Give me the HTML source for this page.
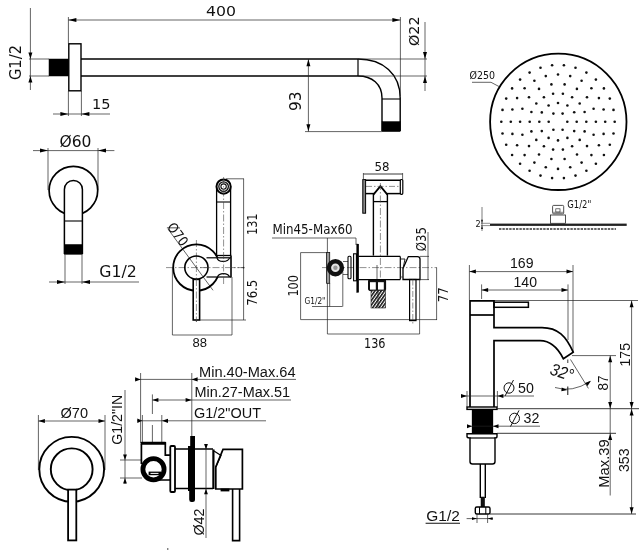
<!DOCTYPE html>
<html><head><meta charset="utf-8"><title>Technical drawing</title>
<style>html,body{margin:0;padding:0;background:#fff}svg{display:block;will-change:transform;filter:grayscale(1)}</style></head>
<body><svg width="640" height="550" viewBox="0 0 640 550">
<rect width="640" height="550" fill="#fff"/>
<text transform="translate(21,80) rotate(-90)" font-family="&quot;DejaVu Sans&quot;, &quot;Liberation Sans&quot;, sans-serif" font-size="15.5" text-anchor="start" fill="#111" textLength="35" lengthAdjust="spacingAndGlyphs">G1/2</text>
<line x1="30.4" y1="8" x2="30.4" y2="90" stroke="#222" stroke-width="0.7"/>
<polygon points="30.40,59.00 28.40,52.50 32.40,52.50" fill="#000"/>
<polygon points="30.40,76.00 32.40,82.50 28.40,82.50" fill="#000"/>
<line x1="29" y1="59" x2="49" y2="59" stroke="#222" stroke-width="0.7"/>
<line x1="29" y1="76" x2="49" y2="76" stroke="#222" stroke-width="0.7"/>
<rect x="49" y="59" width="19.6" height="17" fill="#000" stroke="#000" stroke-width="0.5"/>
<rect x="68.8" y="43.8" width="12.2" height="47.0" fill="none" stroke="#000" stroke-width="1.4"/>
<line x1="81" y1="59" x2="358" y2="59" stroke="#000" stroke-width="1.4"/>
<line x1="81" y1="76" x2="358" y2="76" stroke="#000" stroke-width="1.4"/>
<line x1="358" y1="59" x2="358" y2="76" stroke="#000" stroke-width="1.2"/>
<path d="M358,59 C383,59 400.2,74 400.2,98 V131" fill="none" stroke="#000" stroke-width="1.4" />
<path d="M358,76 C372,76 382,84 382,98 V131" fill="none" stroke="#000" stroke-width="1.4" />
<line x1="382" y1="99" x2="400" y2="99" stroke="#000" stroke-width="1.1"/>
<rect x="382" y="121.6" width="18.2" height="10.0" fill="#000" stroke="#000" stroke-width="0.5"/>
<line x1="68.4" y1="17" x2="68.4" y2="43.6" stroke="#222" stroke-width="0.7"/>
<line x1="400.4" y1="17" x2="400.4" y2="96" stroke="#222" stroke-width="0.7"/>
<line x1="68.4" y1="20" x2="400.4" y2="20" stroke="#222" stroke-width="0.7"/>
<polygon points="68.40,20.00 76.40,18.00 76.40,22.00" fill="#000"/>
<polygon points="400.40,20.00 392.40,22.00 392.40,18.00" fill="#000"/>
<text x="206" y="16" font-family="&quot;DejaVu Sans&quot;, &quot;Liberation Sans&quot;, sans-serif" font-size="14.5" text-anchor="start" fill="#111" textLength="30" lengthAdjust="spacingAndGlyphs">400</text>
<line x1="68.4" y1="91" x2="68.4" y2="116" stroke="#222" stroke-width="0.7"/>
<line x1="81.4" y1="91" x2="81.4" y2="116" stroke="#222" stroke-width="0.7"/>
<line x1="53" y1="114" x2="110" y2="114" stroke="#222" stroke-width="0.7"/>
<polygon points="68.40,114.00 60.40,116.00 60.40,112.00" fill="#000"/>
<polygon points="81.40,114.00 89.40,112.00 89.40,116.00" fill="#000"/>
<text x="92" y="109" font-family="&quot;DejaVu Sans&quot;, &quot;Liberation Sans&quot;, sans-serif" font-size="14.5" text-anchor="start" fill="#111" textLength="18.5" lengthAdjust="spacingAndGlyphs">15</text>
<line x1="308.4" y1="59" x2="308.4" y2="131.6" stroke="#222" stroke-width="0.7"/>
<polygon points="308.40,59.30 310.40,66.30 306.40,66.30" fill="#000"/>
<polygon points="308.40,131.30 306.40,124.30 310.40,124.30" fill="#000"/>
<line x1="305" y1="131.6" x2="382" y2="131.6" stroke="#222" stroke-width="0.7"/>
<text transform="translate(300.6,111) rotate(-90)" font-family="&quot;DejaVu Sans&quot;, &quot;Liberation Sans&quot;, sans-serif" font-size="15.5" text-anchor="start" fill="#111" textLength="19.5" lengthAdjust="spacingAndGlyphs">93</text>
<line x1="425" y1="22" x2="425" y2="91" stroke="#222" stroke-width="0.7"/>
<polygon points="425.00,59.00 423.00,52.00 427.00,52.00" fill="#000"/>
<polygon points="425.00,76.00 427.00,83.00 423.00,83.00" fill="#000"/>
<line x1="358" y1="59" x2="427" y2="59" stroke="#222" stroke-width="0.7"/>
<line x1="358" y1="76" x2="427" y2="76" stroke="#222" stroke-width="0.7"/>
<text transform="translate(418.7,46) rotate(-90)" font-family="&quot;DejaVu Sans&quot;, &quot;Liberation Sans&quot;, sans-serif" font-size="14.5" text-anchor="start" fill="#111" textLength="29.5" lengthAdjust="spacingAndGlyphs">Ø22</text>
<text x="59.5" y="147" font-family="&quot;DejaVu Sans&quot;, &quot;Liberation Sans&quot;, sans-serif" font-size="15" text-anchor="start" fill="#111" textLength="32" lengthAdjust="spacingAndGlyphs">Ø60</text>
<line x1="33" y1="150.6" x2="114.4" y2="150.6" stroke="#222" stroke-width="0.7"/>
<polygon points="48.00,150.60 40.00,152.60 40.00,148.60" fill="#000"/>
<polygon points="98.00,150.60 106.00,148.60 106.00,152.60" fill="#000"/>
<line x1="48" y1="148" x2="48" y2="190" stroke="#222" stroke-width="0.7"/>
<line x1="98" y1="148" x2="98" y2="190" stroke="#222" stroke-width="0.7"/>
<circle cx="73.4" cy="190.6" r="24.3" fill="none" stroke="#000" stroke-width="1.7"/>
<path d="M64.4,254 V189.4 A9,9 0 0 1 82.4,189.4 V254" fill="#fff" stroke="#000" stroke-width="1.5" />
<line x1="64.4" y1="221" x2="82.4" y2="221" stroke="#000" stroke-width="1.1"/>
<rect x="64.2" y="244.4" width="18.4" height="10.0" fill="#000" stroke="#000" stroke-width="0.4"/>
<line x1="65" y1="254.4" x2="65" y2="284" stroke="#222" stroke-width="0.7"/>
<line x1="82" y1="254.4" x2="82" y2="284" stroke="#222" stroke-width="0.7"/>
<line x1="49" y1="282" x2="139" y2="282" stroke="#222" stroke-width="0.7"/>
<polygon points="65.00,282.00 57.00,284.00 57.00,280.00" fill="#000"/>
<polygon points="82.00,282.00 90.00,280.00 90.00,284.00" fill="#000"/>
<text x="99.3" y="276.6" font-family="&quot;DejaVu Sans&quot;, &quot;Liberation Sans&quot;, sans-serif" font-size="15" text-anchor="start" fill="#111" textLength="37.5" lengthAdjust="spacingAndGlyphs">G1/2</text>
<line x1="166" y1="267.6" x2="244" y2="267.6" stroke="#444" stroke-width="0.6" stroke-dasharray="7 2 1.5 2"/>
<line x1="196.4" y1="240" x2="196.4" y2="322" stroke="#444" stroke-width="0.6" stroke-dasharray="7 2 1.5 2"/>
<line x1="168" y1="229" x2="213" y2="290.3" stroke="#222" stroke-width="0.7"/>
<circle cx="196.4" cy="267.6" r="23.2" fill="none" stroke="#000" stroke-width="1.8"/>
<path d="M207,257.8 H231 V277 H207 Z" fill="#fff" stroke="none" stroke-width="0" />
<circle cx="196.4" cy="267.6" r="11.6" fill="none" stroke="#000" stroke-width="1.6"/>
<line x1="206.5" y1="257.8" x2="231" y2="257.8" stroke="#000" stroke-width="1.2"/>
<line x1="206.5" y1="277" x2="231" y2="277" stroke="#000" stroke-width="1.2"/>
<line x1="231" y1="256" x2="231" y2="277.5" stroke="#000" stroke-width="1.6"/>
<path d="M217,257.8 C218,262.5 228,262.5 229.5,257.8" fill="none" stroke="#000" stroke-width="1.1" />
<path d="M217.5,277 C219,272.5 228,272.5 229.5,277" fill="none" stroke="#000" stroke-width="1.1" />
<line x1="200" y1="267.6" x2="244" y2="267.6" stroke="#444" stroke-width="0.6" stroke-dasharray="7 2 1.5 2"/>
<rect x="193.2" y="279.4" width="6.4" height="40.6" fill="#fff" stroke="#000" stroke-width="1.6"/>
<line x1="196.4" y1="279" x2="196.4" y2="322" stroke="#444" stroke-width="0.6" stroke-dasharray="7 2 1.5 2"/>
<line x1="216.6" y1="186.4" x2="216.6" y2="255.5" stroke="#000" stroke-width="1.3"/>
<line x1="230.6" y1="186.4" x2="230.6" y2="255.5" stroke="#000" stroke-width="1.3"/>
<line x1="216.6" y1="202" x2="230.6" y2="202" stroke="#000" stroke-width="1.1"/>
<line x1="216.2" y1="255.5" x2="231.5" y2="255.5" stroke="#000" stroke-width="1.3"/>
<circle cx="223.6" cy="186.6" r="7.1" fill="#fff" stroke="#000" stroke-width="2"/>
<circle cx="223.6" cy="186.6" r="4.8" fill="none" stroke="#111" stroke-width="1.3"/>
<circle cx="223.6" cy="186.6" r="2.7" fill="none" stroke="#111" stroke-width="1.1"/>
<line x1="223.6" y1="177" x2="223.6" y2="285" stroke="#444" stroke-width="0.6" stroke-dasharray="7 2 1.5 2"/>
<line x1="226" y1="178.8" x2="244" y2="178.8" stroke="#222" stroke-width="0.7"/>
<line x1="243.6" y1="178.8" x2="243.6" y2="320" stroke="#222" stroke-width="0.7"/>
<line x1="199.6" y1="320" x2="246" y2="320" stroke="#222" stroke-width="0.7"/>
<circle cx="243.6" cy="267.6" r="0.9" fill="#222" stroke="none" stroke-width="0"/>
<text transform="translate(257,235) rotate(-90)" font-family="&quot;DejaVu Sans Condensed&quot;, &quot;Liberation Sans&quot;, sans-serif" font-size="13.7" text-anchor="start" fill="#111" textLength="21.5" lengthAdjust="spacingAndGlyphs">131</text>
<text transform="translate(257,305.8) rotate(-90)" font-family="&quot;DejaVu Sans Condensed&quot;, &quot;Liberation Sans&quot;, sans-serif" font-size="13.7" text-anchor="start" fill="#111" textLength="26" lengthAdjust="spacingAndGlyphs">76.5</text>
<text transform="translate(166.5,227) rotate(53.7)" font-family="&quot;DejaVu Sans Condensed&quot;, &quot;Liberation Sans&quot;, sans-serif" font-size="13.7" text-anchor="start" fill="#111" textLength="25" lengthAdjust="spacingAndGlyphs">Ø70</text>
<line x1="172.4" y1="267.6" x2="172.4" y2="335" stroke="#222" stroke-width="0.7"/>
<line x1="232" y1="277" x2="232" y2="335" stroke="#222" stroke-width="0.7"/>
<line x1="172.4" y1="335" x2="232" y2="335" stroke="#222" stroke-width="0.7"/>
<text x="192.5" y="347" font-family="&quot;Liberation Sans&quot;, sans-serif" font-size="12.5" text-anchor="start" fill="#111" textLength="14.5" lengthAdjust="spacingAndGlyphs">88</text>
<text x="272.5" y="233.6" font-family="&quot;DejaVu Sans Condensed&quot;, &quot;Liberation Sans&quot;, sans-serif" font-size="13.7" text-anchor="start" fill="#111" textLength="80" lengthAdjust="spacingAndGlyphs">Min45-Max60</text>
<line x1="272" y1="238" x2="356" y2="238" stroke="#222" stroke-width="0.7"/>
<line x1="327.4" y1="238" x2="327.4" y2="334" stroke="#222" stroke-width="0.7"/>
<line x1="356" y1="238" x2="356" y2="245" stroke="#222" stroke-width="0.7"/>
<line x1="300.6" y1="252.6" x2="300.6" y2="319.6" stroke="#222" stroke-width="0.7"/>
<line x1="300.6" y1="252.6" x2="327" y2="252.6" stroke="#222" stroke-width="0.7"/>
<line x1="300.6" y1="319.6" x2="437" y2="319.6" stroke="#222" stroke-width="0.7"/>
<text transform="translate(298,296.6) rotate(-90)" font-family="&quot;DejaVu Sans Condensed&quot;, &quot;Liberation Sans&quot;, sans-serif" font-size="13.7" text-anchor="start" fill="#111" textLength="21.5" lengthAdjust="spacingAndGlyphs">100</text>
<line x1="322" y1="267.6" x2="437" y2="267.6" stroke="#444" stroke-width="0.6" stroke-dasharray="7 2 1.5 2"/>
<rect x="326.6" y="252.4" width="3.1" height="30.9" fill="#999" stroke="#111" stroke-width="0.8"/>
<circle cx="335.4" cy="267.7" r="6.5" fill="#e4e4e4" stroke="#111" stroke-width="4.4"/>
<circle cx="335.4" cy="267.7" r="2.2" fill="#999" stroke="none" stroke-width="0"/>
<text x="304.5" y="304.3" font-family="&quot;DejaVu Sans Condensed&quot;, &quot;Liberation Sans&quot;, sans-serif" font-size="9.5" text-anchor="start" fill="#111" textLength="21" lengthAdjust="spacingAndGlyphs">G1/2&quot;</text>
<line x1="312" y1="306.5" x2="342.5" y2="306.5" stroke="#222" stroke-width="0.7"/>
<line x1="329.7" y1="283" x2="329.7" y2="306.5" stroke="#222" stroke-width="0.7"/>
<line x1="342.8" y1="272" x2="342.8" y2="306.5" stroke="#222" stroke-width="0.7"/>
<line x1="343" y1="261.5" x2="348" y2="261.5" stroke="#222" stroke-width="0.7"/>
<line x1="343" y1="274.5" x2="348" y2="274.5" stroke="#222" stroke-width="0.7"/>
<rect x="348" y="256.3" width="3" height="22.5" fill="none" stroke="#000" stroke-width="1.1" rx="1"/>
<rect x="353.6" y="253.8" width="2.8" height="27.0" fill="none" stroke="#000" stroke-width="1.1"/>
<rect x="356.6" y="244" width="2.2" height="48.5" fill="#000" stroke="#000" stroke-width="0.3"/>
<line x1="358.6" y1="256.4" x2="400.3" y2="256.4" stroke="#000" stroke-width="1.2"/>
<line x1="358.6" y1="279.6" x2="400.3" y2="279.6" stroke="#000" stroke-width="1.2"/>
<line x1="400.3" y1="256.4" x2="400.3" y2="279.6" stroke="#000" stroke-width="1.2"/>
<line x1="373.4" y1="194" x2="373.4" y2="255.6" stroke="#000" stroke-width="1.4"/>
<line x1="387.4" y1="194" x2="387.4" y2="255.6" stroke="#000" stroke-width="1.4"/>
<line x1="373.4" y1="201.6" x2="387.4" y2="201.6" stroke="#000" stroke-width="1.3"/>
<path d="M373.4,194.6 L380.4,186.2 L387.4,194.6" fill="none" stroke="#000" stroke-width="1.8" />
<line x1="365.6" y1="180.3" x2="400.5" y2="180.3" stroke="#000" stroke-width="1.6"/>
<line x1="365.6" y1="193.6" x2="374" y2="193.6" stroke="#000" stroke-width="1.5"/>
<line x1="386.8" y1="193.6" x2="400.5" y2="193.6" stroke="#000" stroke-width="1.5"/>
<rect x="400.3" y="179.5" width="2.5" height="14.8" fill="none" stroke="#000" stroke-width="1.2" rx="1"/>
<line x1="366" y1="186.4" x2="401" y2="186.4" stroke="#444" stroke-width="0.6" stroke-dasharray="6 2 1.5 2"/>
<rect x="362.8" y="179.6" width="2.8" height="33.6" fill="#888" stroke="#000" stroke-width="1"/>
<line x1="380.4" y1="183" x2="380.4" y2="284" stroke="#444" stroke-width="0.6" stroke-dasharray="7 2 1.5 2"/>
<line x1="377" y1="265" x2="377" y2="280" stroke="#222" stroke-width="0.7"/>
<text x="374.5" y="171.4" font-family="&quot;DejaVu Sans Condensed&quot;, &quot;Liberation Sans&quot;, sans-serif" font-size="12.8" text-anchor="start" fill="#111" textLength="15" lengthAdjust="spacingAndGlyphs">58</text>
<line x1="363.4" y1="174" x2="402.6" y2="174" stroke="#222" stroke-width="0.9"/>
<line x1="363.4" y1="173" x2="363.4" y2="180" stroke="#222" stroke-width="0.7"/>
<line x1="402.6" y1="173" x2="402.6" y2="180" stroke="#222" stroke-width="0.7"/>
<path d="M408.3,256.6 H417.5 Q420,256.6 420,259 V279.5 H403 V268.5 Z" fill="none" stroke="#000" stroke-width="1.3" />
<path d="M400.3,259 H405 L403,268.5" fill="none" stroke="#111" stroke-width="0.9" />
<line x1="400.3" y1="277" x2="403" y2="277" stroke="#222" stroke-width="0.7"/>
<rect x="409.6" y="279.5" width="6.4" height="41.1" fill="none" stroke="#000" stroke-width="1.2"/>
<line x1="412.8" y1="279.5" x2="412.8" y2="325" stroke="#444" stroke-width="0.6" stroke-dasharray="6 2 1.5 2"/>
<line x1="428" y1="232" x2="428" y2="280" stroke="#222" stroke-width="0.7"/>
<line x1="420" y1="256.4" x2="429" y2="256.4" stroke="#222" stroke-width="0.7"/>
<line x1="420" y1="279.6" x2="429" y2="279.6" stroke="#222" stroke-width="0.7"/>
<text transform="translate(426.2,251.2) rotate(-90)" font-family="&quot;DejaVu Sans Condensed&quot;, &quot;Liberation Sans&quot;, sans-serif" font-size="13.7" text-anchor="start" fill="#111" textLength="24" lengthAdjust="spacingAndGlyphs">Ø35</text>
<line x1="436.6" y1="267.6" x2="436.6" y2="320" stroke="#222" stroke-width="0.7"/>
<text transform="translate(448,302.3) rotate(-90)" font-family="&quot;DejaVu Sans Condensed&quot;, &quot;Liberation Sans&quot;, sans-serif" font-size="13.7" text-anchor="start" fill="#111" textLength="15" lengthAdjust="spacingAndGlyphs">77</text>
<line x1="327.4" y1="334" x2="419.6" y2="334" stroke="#222" stroke-width="0.7"/>
<line x1="419.6" y1="279.5" x2="419.6" y2="334" stroke="#222" stroke-width="0.7"/>
<text x="364" y="348.2" font-family="&quot;DejaVu Sans Condensed&quot;, &quot;Liberation Sans&quot;, sans-serif" font-size="13.7" text-anchor="start" fill="#111" textLength="21.5" lengthAdjust="spacingAndGlyphs">136</text>
<rect x="368.6" y="279.8" width="17.0" height="10.6" fill="#111" stroke="#000" stroke-width="1" rx="1"/>
<rect x="370" y="282.2" width="5.8" height="7.4" fill="#fff" stroke="none" stroke-width="0"/>
<rect x="378" y="282.2" width="5.8" height="7.4" fill="#fff" stroke="none" stroke-width="0"/>
<defs><pattern id="hx" width="2.6" height="2.6" patternUnits="userSpaceOnUse" patternTransform="rotate(-55)"><rect width="2.6" height="2.6" fill="#fff"/><rect width="2.6" height="1.5" fill="#111"/></pattern></defs>
<rect x="371" y="290.4" width="14.6" height="17.6" fill="url(#hx)" stroke="#222" stroke-width="0.6"/>
<line x1="378" y1="290.4" x2="378" y2="308" stroke="#222" stroke-width="0.8"/>
<text x="60.5" y="418" font-family="&quot;Liberation Sans&quot;, sans-serif" font-size="14" text-anchor="start" fill="#111" textLength="27.5" lengthAdjust="spacingAndGlyphs">Ø70</text>
<line x1="38.4" y1="421" x2="105" y2="421" stroke="#222" stroke-width="0.7"/>
<polygon points="38.40,421.00 44.90,419.00 44.90,423.00" fill="#000"/>
<polygon points="105.00,421.00 98.50,423.00 98.50,419.00" fill="#000"/>
<line x1="38.4" y1="415" x2="38.4" y2="470" stroke="#222" stroke-width="0.7"/>
<line x1="105" y1="415" x2="105" y2="470" stroke="#222" stroke-width="0.7"/>
<circle cx="71.7" cy="469.3" r="32.4" fill="none" stroke="#000" stroke-width="1.9"/>
<circle cx="71.7" cy="469.3" r="20.9" fill="none" stroke="#000" stroke-width="1.9"/>
<rect x="68.1" y="489.6" width="8.2" height="50.8" fill="#fff" stroke="#000" stroke-width="1.8"/>
<text x="199" y="377" font-family="&quot;Liberation Sans&quot;, sans-serif" font-size="13.8" text-anchor="start" fill="#111" textLength="96.5" lengthAdjust="spacingAndGlyphs">Min.40-Max.64</text>
<line x1="135" y1="379.4" x2="296" y2="379.4" stroke="#222" stroke-width="0.7"/>
<polygon points="140.60,379.40 135.10,381.50 135.10,377.30" fill="#000"/>
<polygon points="191.60,379.40 197.60,377.30 197.60,381.50" fill="#000"/>
<text x="194.5" y="397" font-family="&quot;Liberation Sans&quot;, sans-serif" font-size="13.8" text-anchor="start" fill="#111" textLength="95.5" lengthAdjust="spacingAndGlyphs">Min.27-Max.51</text>
<line x1="152.4" y1="400" x2="291" y2="400" stroke="#222" stroke-width="0.7"/>
<polygon points="152.40,400.00 158.40,397.90 158.40,402.10" fill="#000"/>
<polygon points="191.60,400.00 185.60,402.10 185.60,397.90" fill="#000"/>
<text x="194" y="418" font-family="&quot;Liberation Sans&quot;, sans-serif" font-size="14" text-anchor="start" fill="#111" textLength="67" lengthAdjust="spacingAndGlyphs">G1/2&quot;OUT</text>
<line x1="137" y1="420.8" x2="266" y2="420.8" stroke="#222" stroke-width="0.7"/>
<polygon points="142.30,420.80 137.30,423.00 137.30,418.60" fill="#000"/>
<polygon points="162.00,420.80 168.00,418.70 168.00,422.90" fill="#000"/>
<line x1="140.6" y1="373" x2="140.6" y2="443" stroke="#222" stroke-width="0.7"/>
<line x1="142.4" y1="415" x2="142.4" y2="443" stroke="#222" stroke-width="0.7"/>
<line x1="152.4" y1="394.4" x2="152.4" y2="414" stroke="#222" stroke-width="0.7"/>
<line x1="152.4" y1="425" x2="152.4" y2="442" stroke="#222" stroke-width="0.7"/>
<line x1="161.8" y1="415" x2="161.8" y2="442" stroke="#222" stroke-width="0.7"/>
<line x1="191.8" y1="373" x2="191.8" y2="437" stroke="#222" stroke-width="0.7"/>
<text transform="translate(122,444.8) rotate(-90)" font-family="&quot;Liberation Sans&quot;, sans-serif" font-size="14" text-anchor="start" fill="#111" textLength="50" lengthAdjust="spacingAndGlyphs">G1/2&quot;IN</text>
<line x1="125" y1="390" x2="125" y2="484" stroke="#222" stroke-width="0.7"/>
<polygon points="125.00,460.00 123.10,454.50 126.90,454.50" fill="#000"/>
<polygon points="125.00,478.00 126.90,483.50 123.10,483.50" fill="#000"/>
<line x1="120" y1="460" x2="142" y2="460" stroke="#222" stroke-width="0.7"/>
<line x1="120" y1="478" x2="142" y2="478" stroke="#222" stroke-width="0.7"/>
<path d="M141.4,464 V444 M165.3,444 V455.2 H170 M158,480 H170" fill="none" stroke="#000" stroke-width="1.7" />
<rect x="140.6" y="441.7" width="25.6" height="3.1" fill="#000" stroke="none" stroke-width="0" rx="1"/>
<circle cx="153.5" cy="469.3" r="10.6" fill="#fff" stroke="#000" stroke-width="4.8"/>
<rect x="148.6" y="471.6" width="12.4" height="3.6" fill="#000" stroke="none" stroke-width="0"/>
<line x1="150.5" y1="473.4" x2="158.5" y2="473.4" stroke="#fff" stroke-width="1"/>
<rect x="170.3" y="446" width="4.7" height="46" fill="none" stroke="#000" stroke-width="1.8" rx="1"/>
<line x1="175" y1="449" x2="213" y2="449" stroke="#000" stroke-width="1.5"/>
<line x1="175" y1="488.6" x2="213" y2="488.6" stroke="#000" stroke-width="1.5"/>
<path d="M190.2,436 H195 V499.5 Q195,502 192.5,502 H191.5 Q189.2,502 189.2,499.5 V491 H188 V446 H190.2 Z" fill="#000" stroke="none" stroke-width="0" />
<line x1="206" y1="444" x2="206" y2="538" stroke="#222" stroke-width="0.7"/>
<polygon points="206.00,449.60 204.10,444.10 207.90,444.10" fill="#000"/>
<polygon points="206.00,488.80 207.90,494.30 204.10,494.30" fill="#000"/>
<text transform="translate(204,535.5) rotate(-90)" font-family="&quot;Liberation Sans&quot;, sans-serif" font-size="14" text-anchor="start" fill="#111" textLength="27" lengthAdjust="spacingAndGlyphs">Ø42</text>
<line x1="213.4" y1="449.4" x2="213.4" y2="489" stroke="#000" stroke-width="2.2"/>
<path d="M223,449.4 H242.4 V489 H215.8 V467 Z" fill="none" stroke="#000" stroke-width="1.7" />
<path d="M214,451 L221,455.5 L215.8,467" fill="none" stroke="#000" stroke-width="1.2" />
<rect x="221" y="489" width="8" height="2" fill="#000" stroke="#000" stroke-width="0.8"/>
<path d="M232.6,489 V540.6 H239.6 V489" fill="none" stroke="#000" stroke-width="1.6" />
<line x1="167.8" y1="548" x2="167.8" y2="550" stroke="#222" stroke-width="0.8"/>
<text x="510" y="267.6" font-family="&quot;Liberation Sans&quot;, sans-serif" font-size="14" text-anchor="start" fill="#111" textLength="23.5" lengthAdjust="spacingAndGlyphs">169</text>
<line x1="469.4" y1="271.6" x2="573" y2="271.6" stroke="#222" stroke-width="0.7"/>
<polygon points="469.40,271.60 475.90,269.60 475.90,273.60" fill="#000"/>
<polygon points="573.00,271.60 566.50,273.60 566.50,269.60" fill="#000"/>
<line x1="469.4" y1="265" x2="469.4" y2="300" stroke="#222" stroke-width="0.7"/>
<line x1="573" y1="265" x2="573" y2="352" stroke="#222" stroke-width="0.7"/>
<text x="513.5" y="287" font-family="&quot;Liberation Sans&quot;, sans-serif" font-size="14" text-anchor="start" fill="#111" textLength="23.5" lengthAdjust="spacingAndGlyphs">140</text>
<line x1="481.6" y1="290" x2="568" y2="290" stroke="#222" stroke-width="0.7"/>
<polygon points="481.60,290.00 488.10,288.00 488.10,292.00" fill="#000"/>
<polygon points="568.00,290.00 561.50,292.00 561.50,288.00" fill="#000"/>
<line x1="481.6" y1="284.4" x2="481.6" y2="299" stroke="#222" stroke-width="0.7"/>
<line x1="568" y1="284.4" x2="568" y2="340" stroke="#222" stroke-width="0.7"/>
<line x1="494" y1="300.5" x2="638" y2="300.5" stroke="#222" stroke-width="0.7"/>
<path d="M470,407.5 V300.8 H494 V327.6 H542 C558,327.6 566,336 573.2,352.2 L563.4,358.8 C557,346 550,340.6 540,340.6 H494 V407.5" fill="none" stroke="#000" stroke-width="1.7" />
<line x1="470" y1="315" x2="494" y2="315" stroke="#000" stroke-width="1.7"/>
<rect x="494" y="302.2" width="34.4" height="5.1" fill="none" stroke="#000" stroke-width="1.5"/>
<rect x="467" y="407" width="30" height="2.4" fill="#fff" stroke="#000" stroke-width="1.4"/>
<rect x="472" y="409.6" width="21" height="23.4" fill="#000" stroke="#000" stroke-width="0.3"/>
<path d="M467,433.8 H497 V436.5 Q497,438 495,438 V461.5 Q495,464 492.5,464 H472.5 Q470,464 470,461.5 V438 Q467,438 467,436.5 Z" fill="none" stroke="#000" stroke-width="1.4" />
<line x1="470" y1="438" x2="495" y2="438" stroke="#000" stroke-width="1.2"/>
<line x1="480.3" y1="464" x2="480.3" y2="498" stroke="#000" stroke-width="1.4"/>
<line x1="485.3" y1="464" x2="485.3" y2="498" stroke="#000" stroke-width="1.4"/>
<rect x="481" y="497" width="3.6" height="10" fill="#111" stroke="#000" stroke-width="0.5"/>
<rect x="475.3" y="507" width="14.7" height="7" fill="#fff" stroke="#000" stroke-width="1.4" rx="1.5"/>
<line x1="479.5" y1="507" x2="479.5" y2="514" stroke="#000" stroke-width="1"/>
<line x1="485.8" y1="507" x2="485.8" y2="514" stroke="#000" stroke-width="1"/>
<line x1="497" y1="408.7" x2="639" y2="408.7" stroke="#222" stroke-width="0.9"/>
<line x1="497" y1="433.3" x2="616" y2="433.3" stroke="#222" stroke-width="0.9"/>
<line x1="490" y1="514" x2="636" y2="514" stroke="#222" stroke-width="0.9"/>
<line x1="467" y1="391" x2="467" y2="407" stroke="#222" stroke-width="0.7"/>
<line x1="497.4" y1="391" x2="497.4" y2="407" stroke="#222" stroke-width="0.7"/>
<line x1="461" y1="396" x2="534" y2="396" stroke="#222" stroke-width="0.7"/>
<polygon points="467.00,396.00 461.00,398.00 461.00,394.00" fill="#000"/>
<polygon points="497.40,396.00 503.40,394.00 503.40,398.00" fill="#000"/>
<g fill="none" stroke="#111" stroke-width="1"><ellipse cx="509" cy="388" rx="5" ry="5.2"/><line x1="505" y1="396" x2="513.5" y2="380"/></g>
<text x="518" y="393" font-family="&quot;Liberation Sans&quot;, sans-serif" font-size="14" text-anchor="start" fill="#111" textLength="15.8" lengthAdjust="spacingAndGlyphs">50</text>
<line x1="467" y1="426.2" x2="540" y2="426.2" stroke="#222" stroke-width="0.7"/>
<polygon points="472.00,426.20 467.00,428.20 467.00,424.20" fill="#000"/>
<polygon points="493.00,426.20 498.50,424.20 498.50,428.20" fill="#000"/>
<g fill="none" stroke="#111" stroke-width="1"><ellipse cx="514.5" cy="418.4" rx="5" ry="5.2"/><line x1="510.5" y1="426.5" x2="519" y2="410.4"/></g>
<text x="523.5" y="423.4" font-family="&quot;Liberation Sans&quot;, sans-serif" font-size="14" text-anchor="start" fill="#111" textLength="15.8" lengthAdjust="spacingAndGlyphs">32</text>
<line x1="572" y1="355.6" x2="616" y2="355.6" stroke="#222" stroke-width="0.7"/>
<line x1="610.2" y1="355.6" x2="610.2" y2="495.5" stroke="#222" stroke-width="0.7"/>
<polygon points="610.20,355.80 612.20,362.30 608.20,362.30" fill="#000"/>
<polygon points="610.20,408.50 608.20,402.00 612.20,402.00" fill="#000"/>
<polygon points="610.20,433.50 612.20,440.00 608.20,440.00" fill="#000"/>
<text transform="translate(607.5,390.5) rotate(-90)" font-family="&quot;Liberation Sans&quot;, sans-serif" font-size="14" text-anchor="start" fill="#111" textLength="15" lengthAdjust="spacingAndGlyphs">87</text>
<line x1="631.6" y1="300.5" x2="631.6" y2="514" stroke="#222" stroke-width="0.7"/>
<polygon points="631.60,300.70 633.60,307.20 629.60,307.20" fill="#000"/>
<polygon points="631.60,408.50 629.60,402.00 633.60,402.00" fill="#000"/>
<polygon points="631.60,408.90 633.60,415.40 629.60,415.40" fill="#000"/>
<polygon points="631.60,513.80 629.60,507.30 633.60,507.30" fill="#000"/>
<text transform="translate(629.5,366.5) rotate(-90)" font-family="&quot;Liberation Sans&quot;, sans-serif" font-size="14" text-anchor="start" fill="#111" textLength="23.5" lengthAdjust="spacingAndGlyphs">175</text>
<text transform="translate(608.5,487.8) rotate(-90)" font-family="&quot;Liberation Sans&quot;, sans-serif" font-size="14" text-anchor="start" fill="#111" textLength="48.5" lengthAdjust="spacingAndGlyphs">Max.39</text>
<text transform="translate(629,472) rotate(-90)" font-family="&quot;Liberation Sans&quot;, sans-serif" font-size="14" text-anchor="start" fill="#111" textLength="23.5" lengthAdjust="spacingAndGlyphs">353</text>
<line x1="567.8" y1="359.5" x2="567.8" y2="363" stroke="#222" stroke-width="0.9"/>
<line x1="570.5" y1="359.5" x2="588.4" y2="388.4" stroke="#222" stroke-width="0.7"/>
<path d="M555,387.5 Q572,393 590,381.5" fill="none" stroke="#222" stroke-width="0.7" />
<polygon points="567.50,390.00 561.32,391.36 561.74,387.38" fill="#000"/>
<polygon points="591.00,380.80 587.50,386.07 585.04,382.92" fill="#000"/>
<line x1="567.8" y1="386.5" x2="567.8" y2="395" stroke="#111" stroke-width="1"/>
<text transform="translate(549,374) rotate(18)" font-family="&quot;Liberation Sans&quot;, sans-serif" font-size="17" text-anchor="start" fill="#111" textLength="23.5" lengthAdjust="spacingAndGlyphs" font-style="italic">32°</text>
<text x="426.3" y="521" font-family="&quot;Liberation Sans&quot;, sans-serif" font-size="15" text-anchor="start" fill="#111" textLength="33.5" lengthAdjust="spacingAndGlyphs">G1/2</text>
<line x1="425.6" y1="523.2" x2="460" y2="523.2" stroke="#111" stroke-width="1.1"/>
<line x1="466.6" y1="518.6" x2="493" y2="518.6" stroke="#222" stroke-width="0.7"/>
<polygon points="477.00,518.60 472.00,519.90 472.00,517.30" fill="#000"/>
<polygon points="487.60,518.60 492.60,517.30 492.60,519.90" fill="#000"/>
<line x1="477" y1="514" x2="477" y2="523" stroke="#222" stroke-width="0.7"/>
<line x1="487.6" y1="514" x2="487.6" y2="523" stroke="#222" stroke-width="0.7"/>
<circle cx="558.3" cy="121.8" r="68.2" fill="none" stroke="#000" stroke-width="1.8"/>
<circle cx="567.3" cy="121.7" r="1.3" fill="#111"/>
<circle cx="562.6" cy="129.8" r="1.3" fill="#111"/>
<circle cx="553.4" cy="129.8" r="1.3" fill="#111"/>
<circle cx="548.7" cy="121.7" r="1.3" fill="#111"/>
<circle cx="553.4" cy="113.6" r="1.3" fill="#111"/>
<circle cx="562.6" cy="113.6" r="1.3" fill="#111"/>
<circle cx="576.7" cy="121.7" r="1.3" fill="#111"/>
<circle cx="574.2" cy="131.1" r="1.3" fill="#111"/>
<circle cx="567.4" cy="137.9" r="1.3" fill="#111"/>
<circle cx="558.0" cy="140.4" r="1.3" fill="#111"/>
<circle cx="548.6" cy="137.9" r="1.3" fill="#111"/>
<circle cx="541.8" cy="131.1" r="1.3" fill="#111"/>
<circle cx="539.3" cy="121.7" r="1.3" fill="#111"/>
<circle cx="541.8" cy="112.4" r="1.3" fill="#111"/>
<circle cx="548.6" cy="105.5" r="1.3" fill="#111"/>
<circle cx="558.0" cy="103.0" r="1.3" fill="#111"/>
<circle cx="567.4" cy="105.5" r="1.3" fill="#111"/>
<circle cx="574.2" cy="112.3" r="1.3" fill="#111"/>
<circle cx="586.3" cy="121.7" r="1.3" fill="#111"/>
<circle cx="584.6" cy="131.4" r="1.3" fill="#111"/>
<circle cx="579.7" cy="139.9" r="1.3" fill="#111"/>
<circle cx="572.1" cy="146.2" r="1.3" fill="#111"/>
<circle cx="562.9" cy="149.6" r="1.3" fill="#111"/>
<circle cx="553.1" cy="149.6" r="1.3" fill="#111"/>
<circle cx="543.9" cy="146.2" r="1.3" fill="#111"/>
<circle cx="536.3" cy="139.9" r="1.3" fill="#111"/>
<circle cx="531.4" cy="131.4" r="1.3" fill="#111"/>
<circle cx="529.7" cy="121.7" r="1.3" fill="#111"/>
<circle cx="531.4" cy="112.0" r="1.3" fill="#111"/>
<circle cx="536.3" cy="103.5" r="1.3" fill="#111"/>
<circle cx="543.9" cy="97.2" r="1.3" fill="#111"/>
<circle cx="553.1" cy="93.8" r="1.3" fill="#111"/>
<circle cx="562.9" cy="93.8" r="1.3" fill="#111"/>
<circle cx="572.1" cy="97.2" r="1.3" fill="#111"/>
<circle cx="579.7" cy="103.5" r="1.3" fill="#111"/>
<circle cx="584.6" cy="112.0" r="1.3" fill="#111"/>
<circle cx="595.9" cy="121.7" r="1.3" fill="#111"/>
<circle cx="593.6" cy="134.7" r="1.3" fill="#111"/>
<circle cx="587.0" cy="146.1" r="1.3" fill="#111"/>
<circle cx="577.0" cy="154.5" r="1.3" fill="#111"/>
<circle cx="564.6" cy="159.0" r="1.3" fill="#111"/>
<circle cx="551.4" cy="159.0" r="1.3" fill="#111"/>
<circle cx="539.0" cy="154.5" r="1.3" fill="#111"/>
<circle cx="529.0" cy="146.1" r="1.3" fill="#111"/>
<circle cx="522.4" cy="134.7" r="1.3" fill="#111"/>
<circle cx="520.1" cy="121.7" r="1.3" fill="#111"/>
<circle cx="522.4" cy="108.7" r="1.3" fill="#111"/>
<circle cx="529.0" cy="97.3" r="1.3" fill="#111"/>
<circle cx="539.0" cy="88.9" r="1.3" fill="#111"/>
<circle cx="551.4" cy="84.4" r="1.3" fill="#111"/>
<circle cx="564.6" cy="84.4" r="1.3" fill="#111"/>
<circle cx="576.9" cy="88.9" r="1.3" fill="#111"/>
<circle cx="587.0" cy="97.3" r="1.3" fill="#111"/>
<circle cx="593.6" cy="108.7" r="1.3" fill="#111"/>
<circle cx="605.2" cy="121.7" r="1.3" fill="#111"/>
<circle cx="603.6" cy="133.9" r="1.3" fill="#111"/>
<circle cx="598.9" cy="145.3" r="1.3" fill="#111"/>
<circle cx="591.4" cy="155.1" r="1.3" fill="#111"/>
<circle cx="581.6" cy="162.6" r="1.3" fill="#111"/>
<circle cx="570.2" cy="167.3" r="1.3" fill="#111"/>
<circle cx="558.0" cy="168.9" r="1.3" fill="#111"/>
<circle cx="545.8" cy="167.3" r="1.3" fill="#111"/>
<circle cx="534.4" cy="162.6" r="1.3" fill="#111"/>
<circle cx="524.6" cy="155.1" r="1.3" fill="#111"/>
<circle cx="517.1" cy="145.3" r="1.3" fill="#111"/>
<circle cx="512.4" cy="133.9" r="1.3" fill="#111"/>
<circle cx="510.8" cy="121.7" r="1.3" fill="#111"/>
<circle cx="512.4" cy="109.5" r="1.3" fill="#111"/>
<circle cx="517.1" cy="98.1" r="1.3" fill="#111"/>
<circle cx="524.6" cy="88.3" r="1.3" fill="#111"/>
<circle cx="534.4" cy="80.8" r="1.3" fill="#111"/>
<circle cx="545.8" cy="76.1" r="1.3" fill="#111"/>
<circle cx="558.0" cy="74.5" r="1.3" fill="#111"/>
<circle cx="570.2" cy="76.1" r="1.3" fill="#111"/>
<circle cx="581.6" cy="80.8" r="1.3" fill="#111"/>
<circle cx="591.4" cy="88.3" r="1.3" fill="#111"/>
<circle cx="598.9" cy="98.1" r="1.3" fill="#111"/>
<circle cx="603.6" cy="109.5" r="1.3" fill="#111"/>
<circle cx="614.7" cy="121.7" r="1.3" fill="#111"/>
<circle cx="613.5" cy="133.5" r="1.3" fill="#111"/>
<circle cx="609.8" cy="144.8" r="1.3" fill="#111"/>
<circle cx="603.9" cy="155.0" r="1.3" fill="#111"/>
<circle cx="595.9" cy="163.8" r="1.3" fill="#111"/>
<circle cx="586.4" cy="170.8" r="1.3" fill="#111"/>
<circle cx="575.5" cy="175.6" r="1.3" fill="#111"/>
<circle cx="563.9" cy="178.1" r="1.3" fill="#111"/>
<circle cx="552.1" cy="178.1" r="1.3" fill="#111"/>
<circle cx="540.5" cy="175.6" r="1.3" fill="#111"/>
<circle cx="529.6" cy="170.8" r="1.3" fill="#111"/>
<circle cx="520.1" cy="163.8" r="1.3" fill="#111"/>
<circle cx="512.1" cy="155.0" r="1.3" fill="#111"/>
<circle cx="506.2" cy="144.8" r="1.3" fill="#111"/>
<circle cx="502.5" cy="133.5" r="1.3" fill="#111"/>
<circle cx="501.3" cy="121.7" r="1.3" fill="#111"/>
<circle cx="502.5" cy="109.9" r="1.3" fill="#111"/>
<circle cx="506.2" cy="98.6" r="1.3" fill="#111"/>
<circle cx="512.1" cy="88.4" r="1.3" fill="#111"/>
<circle cx="520.1" cy="79.6" r="1.3" fill="#111"/>
<circle cx="529.6" cy="72.6" r="1.3" fill="#111"/>
<circle cx="540.5" cy="67.8" r="1.3" fill="#111"/>
<circle cx="552.1" cy="65.3" r="1.3" fill="#111"/>
<circle cx="563.9" cy="65.3" r="1.3" fill="#111"/>
<circle cx="575.5" cy="67.8" r="1.3" fill="#111"/>
<circle cx="586.4" cy="72.6" r="1.3" fill="#111"/>
<circle cx="595.9" cy="79.6" r="1.3" fill="#111"/>
<circle cx="603.9" cy="88.4" r="1.3" fill="#111"/>
<circle cx="609.8" cy="98.6" r="1.3" fill="#111"/>
<circle cx="613.5" cy="109.9" r="1.3" fill="#111"/>
<text x="469.5" y="78.5" font-family="&quot;DejaVu Sans Condensed&quot;, &quot;Liberation Sans&quot;, sans-serif" font-size="10.3" text-anchor="start" fill="#111" textLength="25.5" lengthAdjust="spacingAndGlyphs">Ø250</text>
<path d="M472,82.3 H491 L499.5,86.8" fill="none" stroke="#222" stroke-width="0.7" />
<rect x="490" y="223.6" width="136.7" height="2.3" fill="#222" stroke="none" stroke-width="0"/>
<line x1="499" y1="228.9" x2="616" y2="228.9" stroke="#666" stroke-width="2" stroke-dasharray="2.4 1"/>
<rect x="550.5" y="215" width="15.0" height="8.3" fill="#fff" stroke="#222" stroke-width="0.8"/>
<rect x="552.6" y="205.4" width="11.1" height="8.4" fill="none" stroke="#222" stroke-width="0.8" rx="1"/>
<rect x="555.8" y="208.8" width="4.2" height="3.2" fill="none" stroke="#333" stroke-width="0.7"/>
<line x1="553" y1="212.3" x2="563.5" y2="212.3" stroke="#333" stroke-width="0.6"/>
<text x="567.3" y="207.5" font-family="&quot;DejaVu Sans Condensed&quot;, &quot;Liberation Sans&quot;, sans-serif" font-size="9.8" text-anchor="start" fill="#111" textLength="24" lengthAdjust="spacingAndGlyphs">G1/2&quot;</text>
<text x="475.5" y="226.6" font-family="&quot;DejaVu Sans Condensed&quot;, &quot;Liberation Sans&quot;, sans-serif" font-size="9" text-anchor="start" fill="#111">2</text>
<line x1="482" y1="207" x2="482" y2="231" stroke="#222" stroke-width="0.6"/>
<polygon points="482.00,223.30 481.10,219.80 482.90,219.80" fill="#000"/>
<polygon points="482.00,225.60 482.90,229.10 481.10,229.10" fill="#000"/>
<line x1="481" y1="223.3" x2="490" y2="223.3" stroke="#222" stroke-width="0.5"/>
<line x1="481" y1="225.6" x2="490" y2="225.6" stroke="#222" stroke-width="0.5"/>
</svg></body></html>
